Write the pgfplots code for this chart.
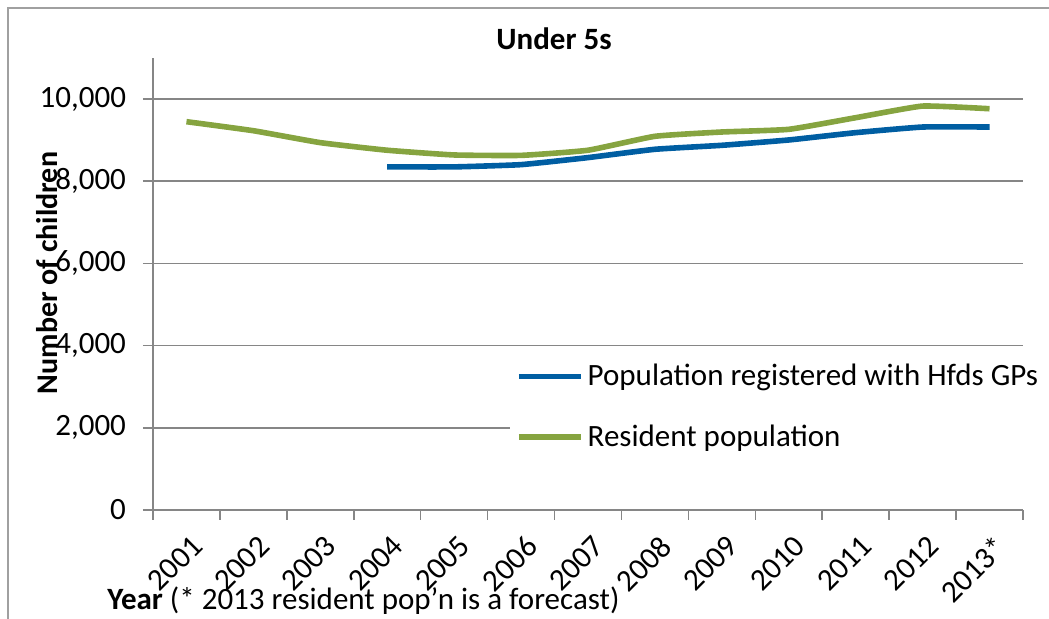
\documentclass[border=0pt]{standalone}
\usepackage{pgfplots}
\pgfplotsset{compat=1.18}
\usepackage{fontspec}
\setmainfont{Carlito}
\definecolor{gridgray}{RGB}{134,134,134}
\definecolor{framegray}{RGB}{160,160,160}
\definecolor{regblue}{RGB}{0,94,162}
\definecolor{resgreen}{RGB}{134,164,64}
\newcommand{\tickfont}{\fontsize{15.5}{17}\selectfont}
\begin{document}
\begin{tikzpicture}
\useasboundingbox (-76.5pt,-54.5pt) rectangle (448pt,255pt);
\draw[framegray, line width=1pt] (-72.5pt,-54.5pt) -- (-72.5pt,251pt) -- (448pt,251pt);
\begin{axis}[at={(0pt,0pt)}, anchor=south west, scale only axis,
  width=435pt, height=226pt,
  xmin=0.5, xmax=13.5, ymin=0, ymax=11000,
  axis x line*=bottom, axis y line*=left,
  axis line style={gridgray, line width=0.8pt},
  xtick={1,2,3,4,5,6,7,8,9,10,11,12,13},
  xticklabels={2001,2002,2003,2004,2005,2006,2007,2008,2009,2010,2011,2012,2013*},
  major x tick style={draw=none},
  minor xtick={0.5,1.5,2.5,3.5,4.5,5.5,6.5,7.5,8.5,9.5,10.5,11.5,12.5,13.5},
  minor x tick style={gridgray, line width=0.8pt},
  minor tick length=5pt, major tick length=5pt,
  tick align=outside,
  ytick={0,2000,4000,6000,8000,10000},
  scaled y ticks=false,
  yticklabel={\pgfmathprintnumber[fixed, precision=0, 1000 sep={,}, assume math mode=true]{\tick}},
  ymajorgrids, grid style={gridgray, line width=0.8pt},
  major y tick style={gridgray, line width=0.8pt},
  y tick label style={font=\tickfont, xshift=-5pt},
  x tick label style={font=\tickfont, rotate=45, anchor=north east, inner sep=1pt, xshift=-2.5pt, yshift=-5pt},
  legend style={at={(0.41,0.35)}, anchor=north west, draw=none, fill=white,
    font=\tickfont, row sep=14pt, inner xsep=3pt, inner ysep=4pt},
  legend cell align=left,
  legend image code/.code={\draw[#1] (0pt,0pt) -- (31pt,0pt);},
]
\addplot[regblue, line width=2.8pt, smooth, tension=0.25, line join=round] coordinates {
(4,8350)(5,8350)(6,8405)(7,8576)(8,8778)(9,8875)(10,9005)(11,9183)(12,9320)(13,9320)};
\addlegendentry{Population registered with Hfds GPs}
\addplot[resgreen, line width=2.8pt, smooth, tension=0.25, line join=round] coordinates {
(1,9450)(2,9230)(3,8940)(4,8755)(5,8640)(6,8630)(7,8755)(8,9094)(9,9199)(10,9264)(11,9547)(12,9830)(13,9765)};
\addlegendentry{Resident population}
\end{axis}
\node[font=\bfseries\fontsize{15.5}{17}\selectfont] at (200.5pt,235.5pt) {Under 5s};
\node[rotate=90, font=\bfseries\fontsize{15}{17}\selectfont] at (-53pt,118.5pt) {Number of children};
\node[anchor=west, font=\tickfont, inner sep=0pt] at (-23pt,-45.5pt) {\textbf{Year} (* 2013 resident pop'n is a forecast)};
\end{tikzpicture}
\end{document}
